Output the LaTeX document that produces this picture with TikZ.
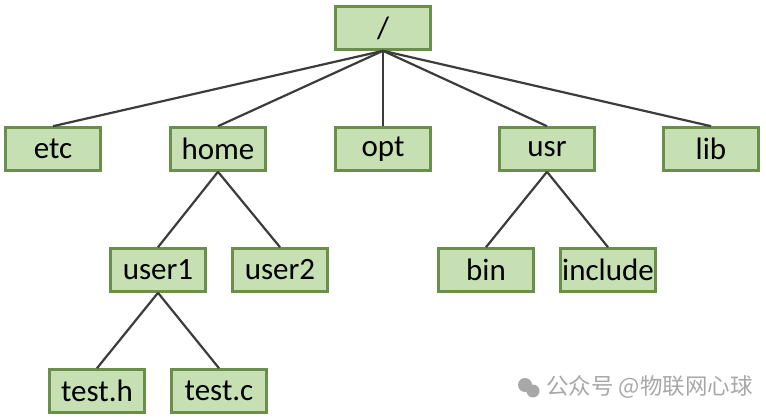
\documentclass[tikz,border=0pt]{standalone}
\usepackage{fontspec}
\setmainfont{Carlito}
\newfontfamily\cjkfont{Noto Sans CJK SC}
\definecolor{boxfill}{HTML}{C6E0B4}
\definecolor{boxline}{HTML}{6A8F4A}
\definecolor{edgecol}{HTML}{3C3C3C}
\definecolor{wmgray}{HTML}{A8A8A8}
\begin{document}
\begin{tikzpicture}[x=1pt,y=-1pt,
  dirbox/.style={draw=boxline,fill=boxfill,line width=2.6pt,minimum width=95pt,minimum height=43pt,inner sep=0pt,font=\fontsize{31}{34}\selectfont},
  edge/.style={draw=edgecol,line width=2.2pt}]
\useasboundingbox[fill=white] (0,0) rectangle (766,420);
\node[dirbox] (root) at (383,28) {/};
\node[dirbox] (etc) at (53,149) {etc};
\node[dirbox] (home) at (218,149) {home};
\node[dirbox] (opt) at (383,149) {opt};
\node[dirbox] (usr) at (547,149) {usr};
\node[dirbox] (lib) at (711,149) {lib};
\node[dirbox] (user1) at (158,270) {user1};
\node[dirbox] (user2) at (280,270) {user2};
\node[dirbox] (bin) at (486,270) {bin};
\node[dirbox] (include) at (608,270) {include};
\node[dirbox] (testh) at (97,391) {test.h};
\node[dirbox] (testc) at (219,391) {test.c};
\foreach \c in {etc,home,opt,usr,lib} \draw[edge] (root.south) -- (\c.north);
\foreach \c in {user1,user2} \draw[edge] (home.south) -- (\c.north);
\foreach \c in {bin,include} \draw[edge] (usr.south) -- (\c.north);
\foreach \c in {testh,testc} \draw[edge] (user1.south) -- (\c.north);
\fill[wmgray] (525,385) circle (7);
\fill[wmgray] (533,391) circle (6.5);
\node[font=\cjkfont\fontsize{22.5}{24}\selectfont,text=wmgray,anchor=west,inner sep=0pt] (wm) at (546,387) {公众号 @物联网心球};
\end{tikzpicture}
\end{document}
